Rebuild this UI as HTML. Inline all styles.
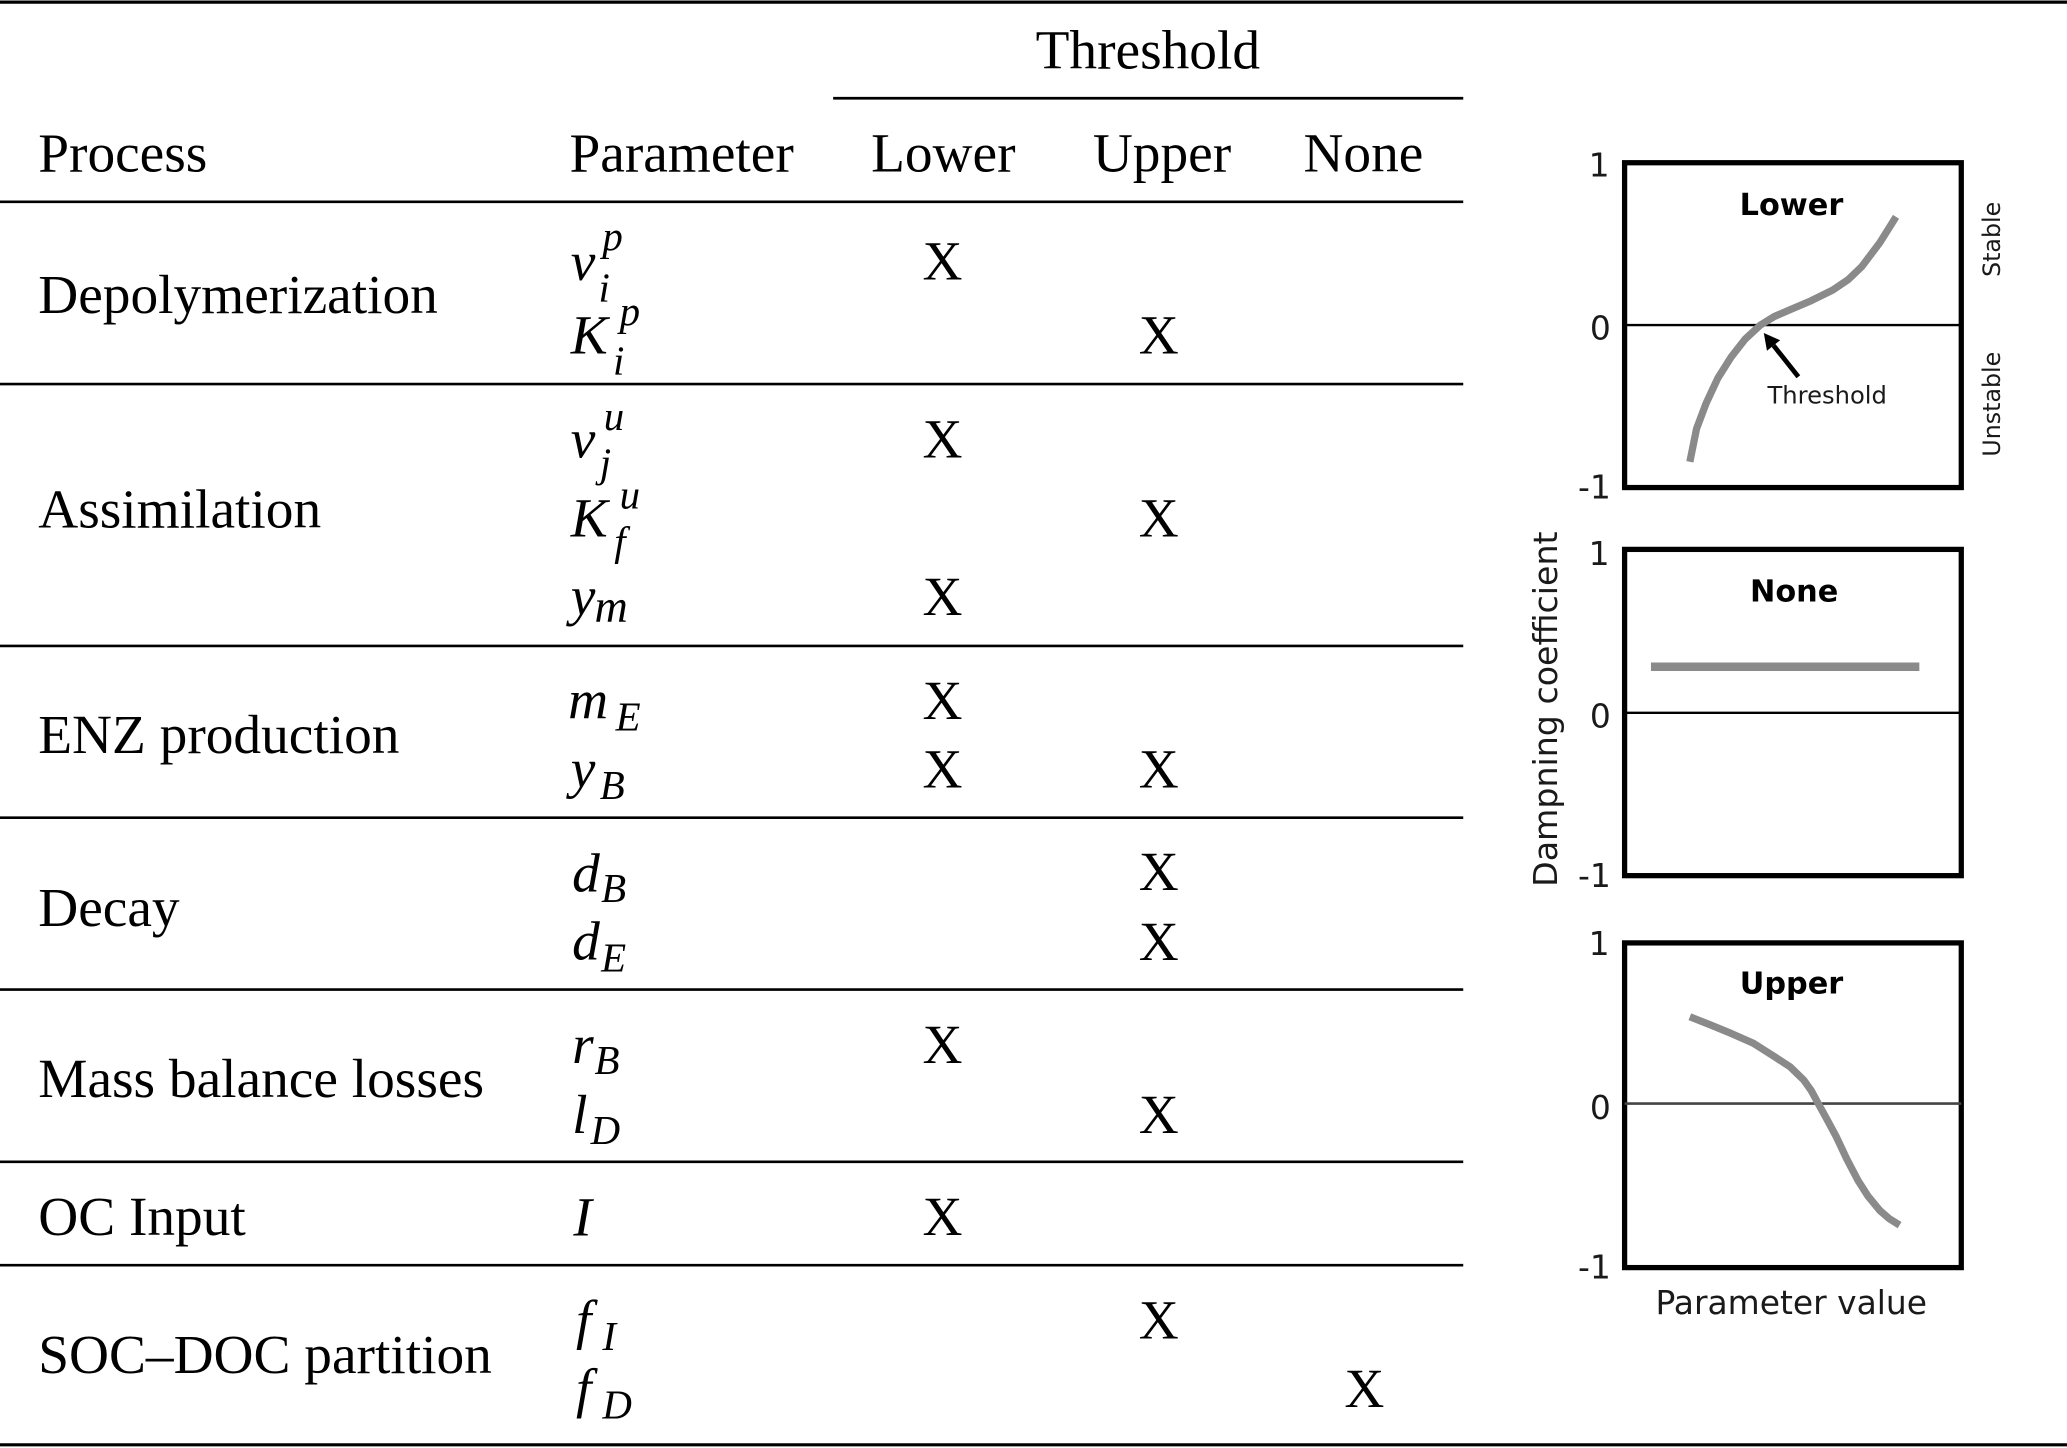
<!DOCTYPE html>
<html>
<head>
<meta charset="utf-8">
<style>
html,body{margin:0;padding:0;background:#fff;}
svg{display:block;}
.t{font-family:"Liberation Serif",serif;font-size:42px;fill:#000;}
.m{font-family:"Liberation Serif",serif;font-style:italic;font-size:42px;fill:#000;}
.s{font-family:"Liberation Serif",serif;font-style:italic;font-size:31px;fill:#000;}
.x{font-family:"Liberation Serif",serif;font-size:42px;fill:#000;text-anchor:middle;}
.c{font-family:"DejaVu Sans","Liberation Sans",sans-serif;fill:#1a1a1a;}
.ax{font-family:"DejaVu Sans","Liberation Sans",sans-serif;font-size:25px;fill:#1a1a1a;text-anchor:end;}
.ti{font-family:"DejaVu Sans","Liberation Sans",sans-serif;font-size:23px;font-weight:bold;fill:#000;text-anchor:middle;}
</style>
</head>
<body>
<svg width="2067" height="1448" viewBox="0 0 1568 1098" preserveAspectRatio="none" xmlns="http://www.w3.org/2000/svg">
<rect x="0" y="0" width="1568" height="1098" fill="#fff"/>
<!-- table rules -->
<g stroke="#000" stroke-width="2">
<line x1="0" y1="1.6" x2="1568" y2="1.6" stroke-width="2.4"/>
<line x1="632" y1="74.5" x2="1110" y2="74.5"/>
<line x1="0" y1="153" x2="1110" y2="153"/>
<line x1="0" y1="291.2" x2="1110" y2="291.2"/>
<line x1="0" y1="489.8" x2="1110" y2="489.8"/>
<line x1="0" y1="620" x2="1110" y2="620"/>
<line x1="0" y1="750.4" x2="1110" y2="750.4"/>
<line x1="0" y1="881" x2="1110" y2="881"/>
<line x1="0" y1="959.4" x2="1110" y2="959.4"/>
<line x1="0" y1="1095.6" x2="1568" y2="1095.6" stroke-width="2.4"/>
</g>
<!-- header -->
<text class="t" x="785.6" y="52">Threshold</text>
<text class="t" x="29" y="130.2">Process</text>
<text class="t" x="432" y="130.2">Parameter</text>
<text class="t" x="660.8" y="130.2">Lower</text>
<text class="t" x="829" y="130.2">Upper</text>
<text class="t" x="988.8" y="130.2">None</text>

<!-- process labels -->
<text class="t" x="29" y="237.2">Depolymerization</text>
<text class="t" x="29" y="400">Assimilation</text>
<text class="t" x="29" y="571">ENZ production</text>
<text class="t" x="29" y="702">Decay</text>
<text class="t" x="29" y="832">Mass balance losses</text>
<text class="t" x="29" y="936.5">OC Input</text>
<text class="t" x="29" y="1041">SOC–DOC partition</text>

<!-- parameters -->
<text class="m" x="433" y="212.4">v</text><text class="s" x="457" y="189.6">p</text><text class="s" x="454" y="228.5">i</text>
<text class="m" x="433" y="268">K</text><text class="s" x="470" y="246.5">p</text><text class="s" x="465" y="284">i</text>

<text class="m" x="433" y="346.8">v</text><text class="s" x="458" y="326">u</text><text class="s" x="455" y="361.5">j</text>
<text class="m" x="433" y="407">K</text><text class="s" x="470" y="385.5">u</text><text class="s" x="466" y="421">f</text>
<text class="m" x="433" y="466.4">y</text><text class="m" x="451" y="471.5" style="font-size:35px">m</text>

<text class="m" x="431" y="544.8">m</text><text class="s" x="467" y="554">E</text>
<text class="m" x="433" y="597">y</text><text class="s" x="455" y="606">B</text>

<text class="m" x="434" y="676">d</text><text class="s" x="456" y="684">B</text>
<text class="m" x="434" y="727.6">d</text><text class="s" x="456" y="736.5">E</text>

<text class="m" x="434" y="806">r</text><text class="s" x="451" y="814.5">B</text>
<text class="m" x="434" y="859">l</text><text class="s" x="448" y="867.5">D</text>

<text class="m" x="435" y="936.7">I</text>

<text class="m" x="437" y="1015">f</text><text class="s" x="457" y="1023.5">I</text>
<text class="m" x="437" y="1067">f</text><text class="s" x="457" y="1075.5">D</text>

<!-- X marks -->
<text class="x" x="715" y="212">X</text>
<text class="x" x="879" y="268">X</text>
<text class="x" x="715" y="346.8">X</text>
<text class="x" x="879" y="407">X</text>
<text class="x" x="715" y="466.4">X</text>
<text class="x" x="715" y="545.3">X</text>
<text class="x" x="715" y="597">X</text>
<text class="x" x="879" y="597">X</text>
<text class="x" x="879" y="675">X</text>
<text class="x" x="879" y="728">X</text>
<text class="x" x="715" y="806">X</text>
<text class="x" x="879" y="859">X</text>
<text class="x" x="715" y="936.5">X</text>
<text class="x" x="879" y="1015">X</text>
<text class="x" x="1035" y="1067">X</text>

<!-- Chart panel 1 : Lower -->
<rect x="1232.4" y="123.4" width="255.4" height="246.3" fill="none" stroke="#000" stroke-width="4"/>
<line x1="1232.4" y1="246.5" x2="1487.8" y2="246.5" stroke="#000" stroke-width="1.8"/>
<polyline fill="none" stroke="#8a8a8a" stroke-width="5.5" stroke-linejoin="round" stroke-linecap="butt"
 points="1281.9,350.2 1287,325 1294.2,305.9 1303,287 1313.4,270.5 1324,257 1335.4,246.5 1346,240 1357.3,235.1 1374,228 1390.2,220 1402,212 1412.2,202.3 1426,184 1438.3,164.4"/>
<line x1="1364.2" y1="285.7" x2="1345.4" y2="262" stroke="#000" stroke-width="3.6"/>
<polygon points="1338,252.5 1350.4,258 1340.4,266" fill="#000"/>
<text class="ti" x="1359" y="163">Lower</text>
<text class="c" x="1340.8" y="305.8" font-size="18" textLength="90.6" lengthAdjust="spacingAndGlyphs">Threshold</text>
<text class="ax" x="1221" y="134">1</text>
<text class="ax" x="1222" y="257.5">0</text>
<text class="ax" x="1222" y="378">-1</text>
<text class="c" font-size="18" text-anchor="middle" transform="translate(1517,181.5) rotate(-90)">Stable</text>
<text class="c" font-size="18" text-anchor="middle" transform="translate(1517,306.5) rotate(-90)">Unstable</text>

<!-- Chart panel 2 : None -->
<rect x="1232.4" y="416.6" width="255.4" height="247.4" fill="none" stroke="#000" stroke-width="4"/>
<line x1="1232.4" y1="540.5" x2="1487.8" y2="540.5" stroke="#000" stroke-width="1.8"/>
<line x1="1252.4" y1="505.6" x2="1456" y2="505.6" stroke="#8a8a8a" stroke-width="6.5"/>
<text class="ti" x="1361" y="456.3">None</text>
<text class="ax" x="1221" y="428.5">1</text>
<text class="ax" x="1222" y="551.5">0</text>
<text class="ax" x="1222" y="672.5">-1</text>
<text class="c" font-size="25" textLength="269.5" lengthAdjust="spacingAndGlyphs" transform="translate(1181,672.5) rotate(-90)">Dampning coefficient</text>

<!-- Chart panel 3 : Upper -->
<rect x="1232.4" y="715" width="255.4" height="246.2" fill="none" stroke="#000" stroke-width="4"/>
<line x1="1232.4" y1="836.8" x2="1487.8" y2="836.8" stroke="#444" stroke-width="2"/>
<polyline fill="none" stroke="#8a8a8a" stroke-width="5.5" stroke-linejoin="round"
 points="1281.9,771 1297,777 1313.4,783.7 1330,791 1346.3,801.4 1358,809 1368.3,819 1374,827 1379.3,836.8 1386,849 1393,862 1401,879 1409.4,895 1417,907 1425.9,917.8 1433,924 1441,929"/>
<text class="ti" x="1359" y="753.5">Upper</text>
<text class="ax" x="1221" y="724.3">1</text>
<text class="ax" x="1222" y="848.5">0</text>
<text class="ax" x="1222" y="969.5">-1</text>
<text class="c" x="1255.8" y="996.5" font-size="25" textLength="206" lengthAdjust="spacingAndGlyphs">Parameter value</text>
</svg>
</body>
</html>
